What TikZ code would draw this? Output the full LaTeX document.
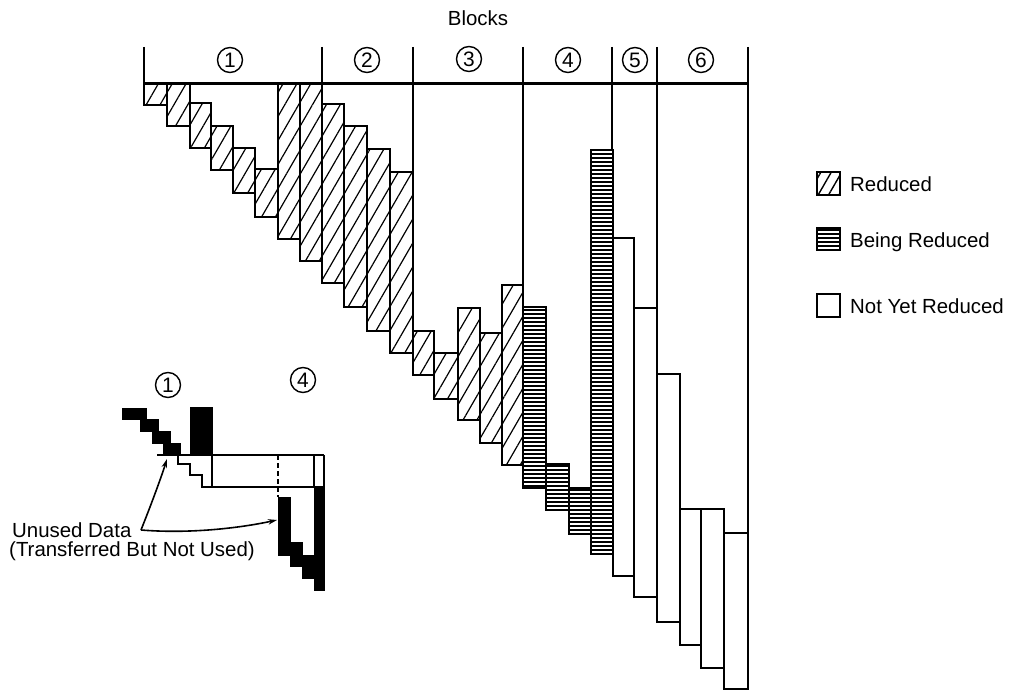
\documentclass[tikz,border=0pt]{standalone}
\usepackage{fontspec}
\setmainfont{Liberation Sans}
\usetikzlibrary{patterns.meta,arrows.meta}
\tikzset{
  redcol/.style={draw=black, line width=2.7bp, line join=miter,
    pattern={Lines[angle=60,distance=12bp,line width=1.2bp]}},
  beingcol/.style={draw=black, line width=2.7bp, line join=miter,
    pattern={Lines[angle=0,distance=4bp,line width=1.5bp]}},
  notcol/.style={draw=black, line width=2.7bp, line join=miter},
  thinline/.style={draw=black, line width=1.2bp},
  topline/.style={draw=black, line width=3bp},
  circ/.style={draw=black, circle, line width=1.4bp, minimum size=25bp, inner sep=0pt,
    font=\fontsize{21}{21}\selectfont},
  lbl/.style={font=\fontsize{20.5}{22}\selectfont, inner sep=0pt},
  blk/.style={fill=black, draw=black, line width=0.8bp},
  arr/.style={draw=black, line width=1.6bp, -{Stealth[length=9bp,width=5.5bp]}},
}
\begin{document}
\begin{tikzpicture}[x=1bp,y=-1bp]
\useasboundingbox (0,0) rectangle (1013,694);
% title
\node[lbl] (blocks) at (478,18) {Blocks};
% ticks and thin dividers
\draw[thinline] (144,47) -- (144,84);
\draw[thinline] (322,47) -- (322,84);
\draw[thinline] (413,47) -- (413,172);
\draw[thinline] (523,47) -- (523,285);
\draw[thinline] (612,47) -- (612,150);
\draw[thinline] (657,47) -- (657,308);
\draw[thinline] (748,47) -- (748,533);
% block labels
\node[circ] (b1) at (230,60) {1};
\node[circ] (b2) at (367,60) {2};
\node[circ] (b3) at (469,59) {3};
\node[circ] (b4) at (568,60) {4};
\node[circ] (b5) at (635,60) {5};
\node[circ] (b6) at (701,60) {6};
% columns, block 1
\path[redcol] (144,84) rectangle (167,105);
\path[redcol] (167,84) rectangle (190,126);
\path[redcol] (190,103) rectangle (211,148);
\path[redcol] (211,126) rectangle (233,170);
\path[redcol] (233,148) rectangle (255,193);
\path[redcol] (255,169) rectangle (278,217);
\path[redcol] (278,84) rectangle (300,239);
\path[redcol] (300,84) rectangle (322,261);
% block 2
\path[redcol] (322,104) rectangle (344,283);
\path[redcol] (344,126) rectangle (367,307);
\path[redcol] (367,149) rectangle (390,331);
\path[redcol] (390,172) rectangle (413,353);
% block 3
\path[redcol] (413,331) rectangle (434,375);
\path[redcol] (434,353) rectangle (458,399);
\path[redcol] (458,308) rectangle (480,420);
\path[redcol] (480,333) rectangle (502,443);
\path[redcol] (502,285) rectangle (523,465);
% block 4
\path[beingcol] (523,307) rectangle (546,488);
\path[beingcol] (546,464) rectangle (569,510);
\path[beingcol] (569,488) rectangle (591,534);
\path[beingcol] (591,150) rectangle (613,554);
% blocks 5 and 6
\path[notcol] (613,238) rectangle (634,576);
\path[notcol] (634,308) rectangle (657,597);
\path[notcol] (657,374) rectangle (680,622);
\path[notcol] (680,509) rectangle (701,645);
\path[notcol] (701,509) rectangle (724,668);
\path[notcol] (724,533) rectangle (748,689);
% top line
\draw[topline] (143,84) -- (749,84);
% legend
\path[redcol, line width=2.4bp, pattern={Lines[angle=60,distance=9bp,line width=1.4bp]}] (817,172) rectangle (840,195);
\node[lbl, anchor=west] (lr) at (850,184) {Reduced};
\path[beingcol, line width=2.4bp] (817,228) rectangle (840,250);
\node[lbl, anchor=west] (lb) at (850,242) {Being Reduced};
\path[notcol, line width=2.4bp] (817,294) rectangle (840,317);
\node[lbl, anchor=west] (ln) at (850,306) {Not Yet Reduced};
% inset
\node[circ] (i1) at (168,385) {1};
\node[circ] (i4) at (303,380) {4};
\path[blk] (122,408) -- (146,408) -- (146,419) -- (158,419) -- (158,431) -- (170,431)
  -- (170,443) -- (180,443) -- (180,455) -- (163,455) -- (163,443) -- (152,443)
  -- (152,431) -- (140,431) -- (140,419) -- (122,419) -- cycle;
\path[blk] (190,407) rectangle (212,455);
\draw[line width=1.7bp] (157,455) -- (324,455);
\draw[line width=1.7bp] (178,455) -- (178,464) -- (190,464) -- (190,475) -- (202,475)
  -- (202,487) -- (324,487);
\draw[line width=1.5bp] (212,455) -- (212,487);
\draw[line width=1.5bp] (314,455) -- (314,487);
\draw[line width=1.7bp] (324,455) -- (324,487);
\draw[line width=1.2bp, dash pattern=on 5bp off 3bp] (278,455) -- (278,497);
\path[blk] (314,487) rectangle (324,590);
\path[blk] (278,497) -- (290,497) -- (290,542) -- (302,542) -- (302,555) -- (314,555)
  -- (314,578) -- (302,578) -- (302,566) -- (290,566) -- (290,555) -- (278,555) -- cycle;
% annotation
\node[lbl, anchor=west] (ud) at (12,530) {Unused Data};
\node[lbl, anchor=west] (tb) at (9,551) {(Transferred But Not Used)};
\coordinate (j) at (141,530);
\coordinate (t1) at (167,459);
\coordinate (t2) at (277,520);
\draw[arr] (j) .. controls (151,505) and (161,478) .. (t1);
\draw[arr] (j) .. controls (190,534) and (240,528) .. (t2);
\end{tikzpicture}
\end{document}
